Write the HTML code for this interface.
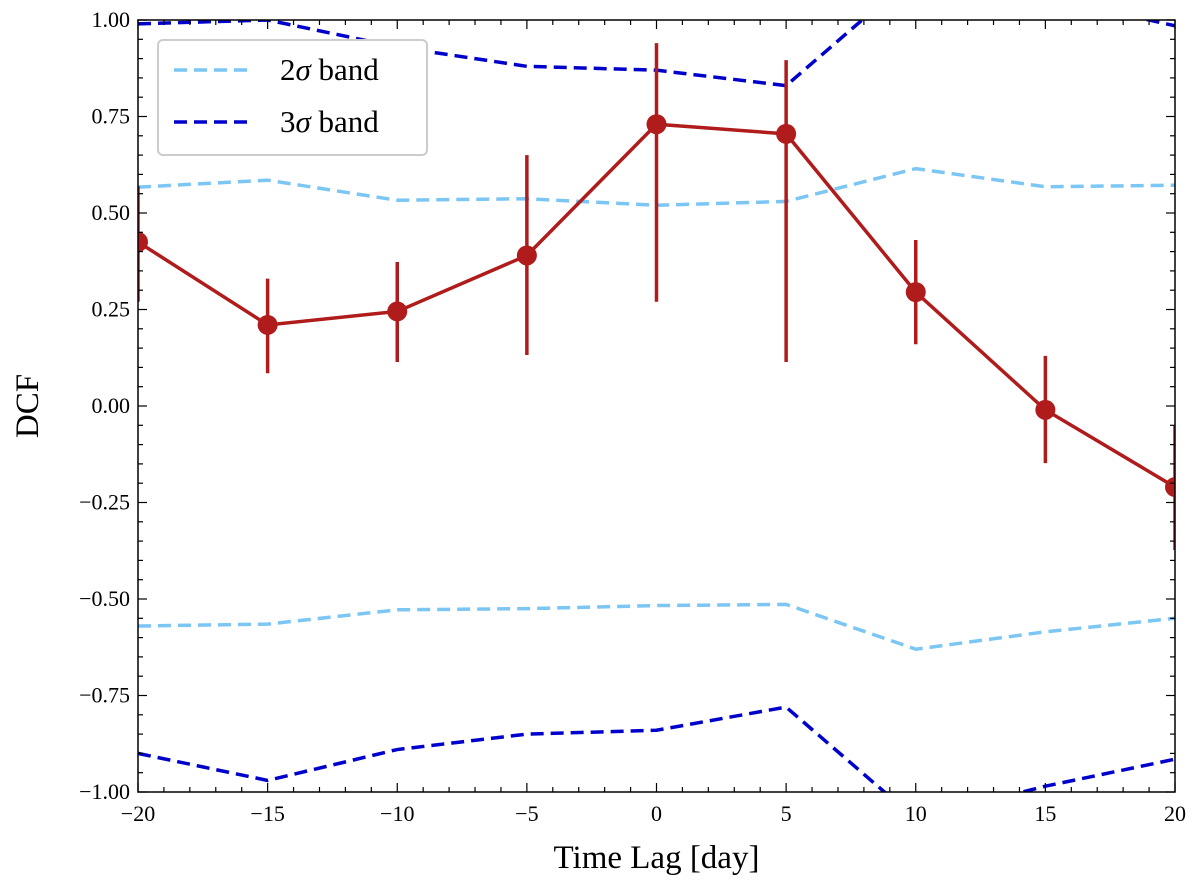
<!DOCTYPE html>
<html><head><meta charset="utf-8"><style>
html,body{margin:0;padding:0;background:#fff;}
svg{display:block;font-family:"Liberation Serif",serif;}
</style></head><body>
<svg id="chart" width="1200" height="888"></svg>
<script>
const lags=[-20,-15,-10,-5,0,5,10,15,20];
const dcf=[0.425,0.21,0.245,0.39,0.73,0.705,0.295,-0.01,-0.21];
const errHi=[0.57,0.33,0.373,0.65,0.94,0.896,0.43,0.13,-0.05];
const errLo=[0.27,0.085,0.114,0.132,0.27,0.114,0.16,-0.148,-0.373];
const sig2Up=[0.567,0.585,0.533,0.537,0.52,0.53,0.615,0.568,0.572];
const sig2Lo=[-0.57,-0.565,-0.528,-0.525,-0.517,-0.514,-0.63,-0.585,-0.55];
const sig3Up=[0.99,1.0,0.93,0.88,0.87,0.83,1.12,1.06,0.985];
const sig3Lo=[-0.9,-0.97,-0.89,-0.85,-0.84,-0.78,-1.07,-0.985,-0.915];
const xTicks=[-20,-15,-10,-5,0,5,10,15,20];
const yTicks=[-1,-0.75,-0.5,-0.25,0,0.25,0.5,0.75,1];

const L=138,R=1175,T=20,B=792;
const xs=v=>L+(v+20)/40*(R-L);
const ys=v=>B-(v+1)/2*(B-T);
const NS="http://www.w3.org/2000/svg";
const svg=document.getElementById('chart');
function mk(tag,attrs,parent){const e=document.createElementNS(NS,tag);for(const k in attrs)e.setAttribute(k,attrs[k]);(parent||svg).appendChild(e);return e;}
const defs=mk('defs',{});
const cp=mk('clipPath',{id:'clip'},defs);mk('rect',{x:L,y:T,width:R-L,height:B-T},cp);
const g=mk('g',{'clip-path':'url(#clip)'});


function line(arr,color,name,dash){
  const p=mk('polyline',{points:arr.map((v,i)=>xs(lags[i])+','+ys(v)).join(' '),fill:'none',stroke:color,'stroke-width':3.5,'stroke-dasharray':dash||''},g);
  
  
}
line(sig2Up,'#7cc6f4','2sigma-upper','13,7');
line(sig2Lo,'#7cc6f4','2sigma-lower','13,7');
line(sig3Up,'#0000cc','3sigma-upper','13,7');
line(sig3Lo,'#0000cc','3sigma-lower','13,7');
lags.forEach((x,i)=>{
  const e=mk('line',{x1:xs(x),x2:xs(x),y1:ys(errHi[i]),y2:ys(errLo[i]),stroke:'#b01c1c','stroke-width':3.5},g);
  
  
});
line(dcf,'#b01c1c','dcf-line');
lags.forEach((x,i)=>{
  const c=mk('circle',{cx:xs(x),cy:ys(dcf[i]),r:10,fill:'#b01c1c'},g);
  
  
});
const fr=mk('rect',{x:L,y:T,width:R-L,height:B-T,fill:'none',stroke:'#000','stroke-width':1.5});


for(let v=-20;v<=20;v+=1){const len=v%5===0?9:5;const x=xs(v);
  mk('line',{x1:x,x2:x,y1:B,y2:B-len,stroke:'#000','stroke-width':1.2});
  mk('line',{x1:x,x2:x,y1:T,y2:T+len,stroke:'#000','stroke-width':1.2});}
for(let k=-20;k<=20;k++){const v=k*0.05;const len=k%5===0?9:5;const y=ys(v);
  mk('line',{x1:L,x2:L+len,y1:y,y2:y,stroke:'#000','stroke-width':1.2});
  mk('line',{x1:R,x2:R-len,y1:y,y2:y,stroke:'#000','stroke-width':1.2});}
xTicks.forEach(v=>{const t=mk('text',{x:xs(v),y:B+29,'text-anchor':'middle','font-size':22});t.textContent=v<0?'\u2212'+(-v):String(v);
  });
yTicks.forEach(v=>{const t=mk('text',{x:L-8,y:ys(v)+7,'text-anchor':'end','font-size':22});t.textContent=(v<0?'\u2212':'')+Math.abs(v).toFixed(2);
  });
const xl=mk('text',{x:(L+R)/2,y:868,'text-anchor':'middle','font-size':33});xl.textContent='Time Lag [day]';

const yl=mk('text',{x:0,y:0,'text-anchor':'middle','font-size':33,transform:'translate(38,406) rotate(-90)'});yl.textContent='DCF';

const lg=mk('g',{});

mk('rect',{x:158,y:40,width:269,height:115,rx:5,fill:'#fff',stroke:'#ccc','stroke-width':2},lg);
[['#7cc6f4','2','70'],['#0000cc','3','122']].forEach(([c,n,y])=>{
  const e=mk('g',{},lg);
  
  mk('line',{x1:174,x2:254,y1:y,y2:y,stroke:c,'stroke-width':3.5,'stroke-dasharray':'13,7'},e);
  const t=mk('text',{x:280,y:+y+10,'font-size':31},e);
  t.innerHTML=n+'<tspan font-style="italic">σ</tspan> band';
});
</script>
</body></html>
